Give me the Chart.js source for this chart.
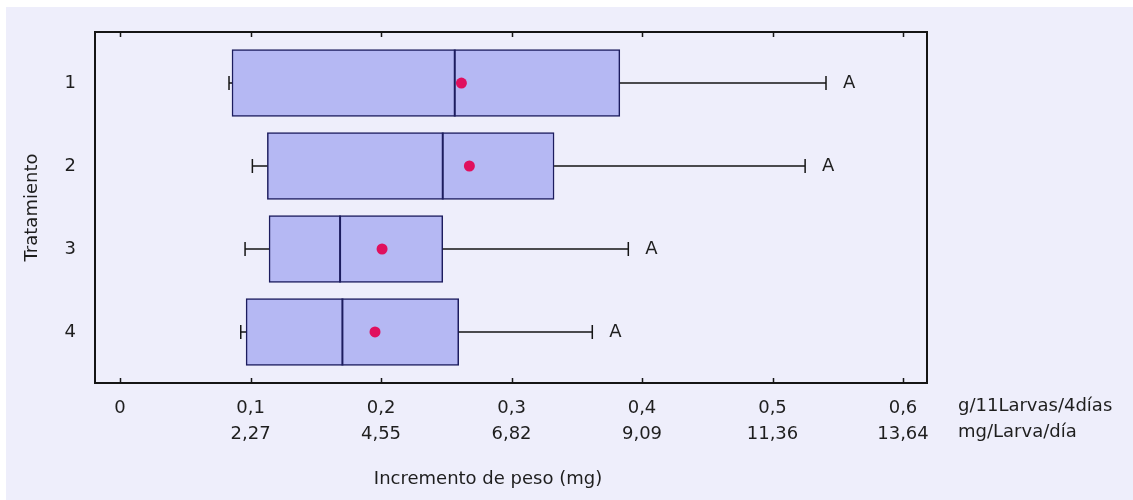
<!DOCTYPE html>
<html lang="es">
<head>
<meta charset="utf-8">
<title>Incremento de peso por tratamiento</title>
<script src="https://cdn.jsdelivr.net/npm/chart.js@4.4.1/dist/chart.umd.min.js"></script>
<style>
  html, body { margin: 0; padding: 0; background: #ffffff; }
  #wrap { position: absolute; left: 6px; top: 7px; width: 1127px; height: 493px; background: #eeeefb; }
</style>
</head>
<body>
<div id="wrap"><canvas id="chart"></canvas></div>
<script>
// Treatments and their box-plot statistics (g / 11 larvas / 4 días)
const categories   = ['1', '2', '3', '4'];
const whiskerLow   = [0.0835, 0.1014, 0.0958, 0.0925];
const q1           = [0.0858, 0.1129, 0.1142, 0.0966];
const medians      = [0.2565, 0.2473, 0.1686, 0.1704];
const q3           = [0.3830, 0.3326, 0.2473, 0.2595];
const whiskerHigh  = [0.5410, 0.5250, 0.3895, 0.3619];
const means        = [0.2616, 0.2677, 0.2008, 0.1954];
const groupLetters = ['A', 'A', 'A', 'A'];

// Axis ticks: primary unit and its equivalent in mg/Larva/día
const tickValues       = [0, 0.1, 0.2, 0.3, 0.4, 0.5, 0.6];
const tickTopLabels    = ['0', '0,1', '0,2', '0,3', '0,4', '0,5', '0,6'];
const tickBottomLabels = ['', '2,27', '4,55', '6,82', '9,09', '11,36', '13,64'];
const unitLabels       = ['g/11Larvas/4días', 'mg/Larva/día'];
const xTitle = 'Incremento de peso (mg)';
const yTitle = 'Tratamiento';

const FONT = '"DejaVu Sans", "Liberation Sans", sans-serif';
const TEXT = '#1e1e1e';
const INK = '#151515';

const boxExtras = {
  id: 'boxExtras',
  afterDatasetDraw(chart, args) {
    if (args.meta.type !== 'bar') return;
    const { ctx } = chart;
    const xs = chart.scales.x;
    args.meta.data.forEach((bar, i) => {
      const { y, height } = bar.getProps(['y', 'height'], true);
      const half = height / 2;
      const xl = xs.getPixelForValue(whiskerLow[i]);
      const xa = xs.getPixelForValue(q1[i]);
      const xb = xs.getPixelForValue(q3[i]);
      const xh = xs.getPixelForValue(whiskerHigh[i]);
      const xm = xs.getPixelForValue(medians[i]);
      const cap = 7;
      ctx.save();
      ctx.strokeStyle = INK;
      ctx.lineWidth = 1.5;
      ctx.beginPath();
      ctx.moveTo(xl, y); ctx.lineTo(xa, y);
      ctx.moveTo(xb, y); ctx.lineTo(xh, y);
      ctx.moveTo(xl, y - cap); ctx.lineTo(xl, y + cap);
      ctx.moveTo(xh, y - cap); ctx.lineTo(xh, y + cap);
      ctx.stroke();
      // median
      ctx.strokeStyle = '#1c1c5e';
      ctx.lineWidth = 2;
      ctx.beginPath();
      ctx.moveTo(xm, y - half); ctx.lineTo(xm, y + half);
      ctx.stroke();
      // group letter
      ctx.fillStyle = TEXT;
      ctx.font = '18px ' + FONT;
      ctx.textAlign = 'left';
      ctx.textBaseline = 'middle';
      ctx.fillText(groupLetters[i], xh + 17, y);
      ctx.restore();
    });
  },
  afterDraw(chart) {
    const { ctx, chartArea: a } = chart;
    const xs = chart.scales.x;
    ctx.save();
    // frame
    ctx.strokeStyle = INK;
    ctx.lineWidth = 2;
    ctx.strokeRect(a.left, a.top, a.right - a.left, a.bottom - a.top);
    // inward tick marks, top and bottom
    ctx.lineWidth = 1.5;
    ctx.beginPath();
    tickValues.forEach(v => {
      const px = Math.round(xs.getPixelForValue(v)) + 0.5;
      ctx.moveTo(px, a.bottom); ctx.lineTo(px, a.bottom - 5);
      ctx.moveTo(px, a.top); ctx.lineTo(px, a.top + 5);
    });
    ctx.stroke();
    // unit captions to the right of the tick rows
    ctx.fillStyle = TEXT;
    ctx.font = '18px ' + FONT;
    ctx.textAlign = 'left';
    ctx.textBaseline = 'middle';
    ctx.fillText(unitLabels[0], a.right + 31, a.bottom + 23);
    ctx.fillText(unitLabels[1], a.right + 31, a.bottom + 49);
    // axis title
    ctx.textAlign = 'center';
    ctx.fillText(xTitle, a.left + 393, a.bottom + 96);
    ctx.restore();
  }
};

new Chart(document.getElementById('chart'), {
  type: 'bar',
  data: {
    datasets: [
      {
        type: 'scatter',
        label: 'Media',
        data: means.map((m, i) => ({ x: m, y: i + 1 })),
        pointRadius: 5.5,
        pointBackgroundColor: '#e0105e',
        pointBorderWidth: 0,
        order: 0
      },
      {
        type: 'bar',
        label: 'Rango intercuartil',
        data: q1.map((v, i) => ({ x: [v, q3[i]], y: i + 1 })),
        backgroundColor: '#b5b8f3',
        borderColor: '#1c1c5e',
        borderWidth: 1.5,
        borderSkipped: false,
        barThickness: 67,
        order: 1
      }
    ]
  },
  options: {
    indexAxis: 'y',
    responsive: true,
    maintainAspectRatio: false,
    animation: false,
    layout: { padding: { left: 0, top: 25, right: 206, bottom: 0 } },
    plugins: { legend: { display: false }, tooltip: { enabled: false } },
    scales: {
      x: {
        type: 'linear',
        min: -0.0192,
        max: 0.6184,
        offset: false,
        grid: { display: false },
        border: { display: false },
        afterBuildTicks: s => { s.ticks = tickValues.map(v => ({ value: v })); },
        afterFit: s => { s.height = 117; s.paddingLeft = 0; s.paddingRight = 0; },
        ticks: {
          padding: 4,
          color: TEXT,
          font: { family: FONT, size: 18, lineHeight: 1.45 },
          maxRotation: 0,
          autoSkip: false,
          callback: (v, i) => [tickTopLabels[i], tickBottomLabels[i]]
        }
      },
      y: {
        type: 'linear',
        reverse: true,
        min: 0.385,
        max: 4.615,
        offset: false,
        grid: { display: false },
        border: { display: false },
        afterBuildTicks: s => { s.ticks = categories.map((c, i) => ({ value: i + 1 })); },
        afterFit: s => { s.width = 89; s.paddingTop = 0; s.paddingBottom = 0; },
        ticks: {
          padding: 11,
          color: TEXT,
          font: { family: FONT, size: 18 },
          callback: (v, i) => categories[i]
        },
        title: {
          display: true,
          text: yTitle,
          color: TEXT,
          font: { family: FONT, size: 18 },
          padding: { top: 16, bottom: 0 }
        }
      }
    }
  },
  plugins: [boxExtras]
});
</script>
</body>
</html>
